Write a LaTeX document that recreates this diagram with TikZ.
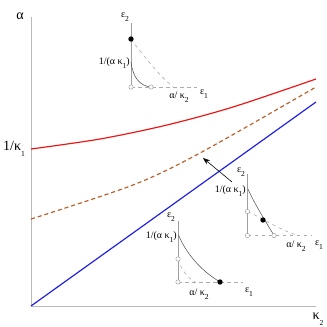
\documentclass[tikz,border=0pt]{standalone}
\usepackage{fontspec}
\setmainfont{Liberation Serif}
\usetikzlibrary{arrows.meta}
\colorlet{axes}{gray!55}
\colorlet{insetaxes}{gray!75}
\colorlet{insetdash}{gray!65}
\colorlet{insetcurve}{black!75}
\definecolor{upper}{RGB}{238,20,20}
\definecolor{lower}{RGB}{30,30,230}
\definecolor{middle}{RGB}{185,95,40}
\newcommand{\lowsub}[1]{\raisebox{-0.9ex}{\fontsize{6.5}{6.5}\selectfont #1}}
\tikzset{
  bigtext/.style={font=\fontsize{12}{12}\selectfont},
  smalltext/.style={font=\fontsize{8.5}{8.5}\selectfont},
  opendot/.style={draw=insetaxes, fill=white, line width=0.4pt},
  fulldot/.style={fill=black},
}

\begin{document}
\begin{tikzpicture}[x=0.3mm,y=-0.3mm, every node/.style={inner sep=0pt}]
        \useasboundingbox (0,0) rectangle (327,327);
        % main axes
        \draw[axes, line width=0.8pt] (31,17) -- (31,306) -- (316,306);
        \node[bigtext] (alpha) at (20,16) {α};
        \node[bigtext] (kappa2) at (318,319) {κ\lowsub{2}};
        \node[bigtext] (invkappa1) at (14,149) {1/κ\lowsub{1}};
        % curves
        \draw[upper, line width=1pt] plot[smooth] coordinates {(31,149) (100,139) (167,125) (233,107) (316,79)};
        \draw[middle, line width=1pt, dash pattern=on 3.5pt off 2.5pt] plot[smooth] coordinates {(31,219) (133,185) (200,153) (316,87)};
        \draw[lower, line width=1pt] (31,306) -- (316,102);
        % arrow
        \coordinate (arrtail) at (232,182);
        \coordinate (arrhead) at (203,158);
        \draw[-{Stealth[length=6pt,width=4.5pt]}, line width=0.5pt] (arrtail) -- (arrhead);

        % inset top
        \draw[insetaxes, line width=0.6pt] (131,23) -- (131,87);
        \draw[insetdash, dashed, line width=0.6pt] (131,87) -- (197,87);
        \draw[insetcurve, line width=0.4pt] (131,62) .. controls (133,78) and (140,86) .. (151,87);
        \draw[insetdash, dashed, line width=0.5pt] (131,39) .. controls (145,58) and (160,76) .. (173,87);
        \foreach \x/\y in {131/87, 151/87}
        {
            \draw[opendot] (\x,\y) circle (2.2);
        }
        \fill[fulldot] (131,39) circle (2.7);
        \node[smalltext] (epstwoA) at (125,17) {ε\lowsub{2}};
        \node[smalltext] (epsoneA) at (204,94) {ε\lowsub{1}};
        \node[smalltext, anchor=east] (invA) at (130,63) {1/(α κ\lowsub{1})};
        \node[smalltext] (ratioA) at (179,97) {α/ κ\lowsub{2}};

        % inset right
        \draw[insetaxes, line width=0.6pt] (247.5,174) -- (247.5,235.5);
        \draw[insetdash, dashed, line width=0.6pt] (247.5,235.5) -- (312,235.5);
        \draw[insetcurve, line width=0.4pt] (248,189) .. controls (254,203) and (266,222) .. (274,235.5);
        \draw[insetdash, dashed, line width=0.5pt] (247.5,211.5) .. controls (262,218) and (280,230) .. (298,235.5);
        \foreach \x/\y in {247.5/211.5, 247.5/235.5, 274/235.5}
        {
            \draw[opendot] (\x,\y) circle (2.2);
        }
        \fill[fulldot] (263,220) circle (2.7);
        \node[smalltext] (epstwoB) at (241,172) {ε\lowsub{2}};
        \node[smalltext] (epsoneB) at (319,245) {ε\lowsub{1}};
        \node[smalltext, anchor=east] (invB) at (246,191) {1/(α κ\lowsub{1})};
        \node[smalltext] (ratioB) at (296,246) {α/ κ\lowsub{2}};

        % inset bottom
        \draw[insetaxes, line width=0.6pt] (178,221) -- (178,282);
        \draw[insetdash, dashed, line width=0.6pt] (178,282) -- (243,282);
        \draw[insetcurve, line width=0.4pt] (178.5,235) .. controls (186,253) and (200,270) .. (220,282);
        \draw[insetdash, dashed, line width=0.5pt] (178,259) .. controls (181,270) and (188,278) .. (195,282);
        \foreach \x/\y in {178/259, 178/282}
        {
            \draw[opendot] (\x,\y) circle (2.2);
        }
        \fill[fulldot] (220,282) circle (2.7);
        \node[smalltext] (epstwoC) at (171,217) {ε\lowsub{2}};
        \node[smalltext] (epsoneC) at (249,292) {ε\lowsub{1}};
        \node[smalltext, anchor=east] (invC) at (177,237) {1/(α κ\lowsub{1})};
        \node[smalltext] (ratioC) at (199,294) {α/ κ\lowsub{2}};
    \end{tikzpicture}
\end{document}
